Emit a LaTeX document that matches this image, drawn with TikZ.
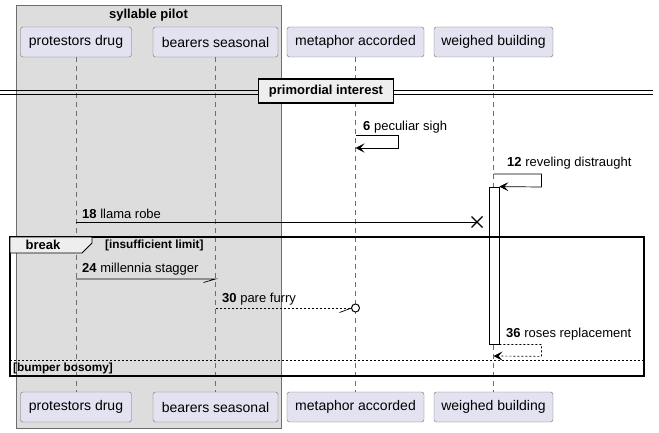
\documentclass[tikz,border=0pt]{standalone}
\usepackage{fontspec}
\setmainfont{Liberation Sans}
\usetikzlibrary{arrows.meta}
\definecolor{umlpart}{RGB}{226,226,240}
\definecolor{umlgroup}{RGB}{221,221,221}
\definecolor{umledge}{RGB}{110,110,110}
\definecolor{umltab}{RGB}{238,238,238}

\begin{document}
\begin{tikzpicture}[x=1pt, y=-1pt,
    part/.style={draw=umledge, fill=umlpart, rounded corners=2.5pt, minimum height=30pt,
      inner sep=0pt, font=\fontsize{14}{16}\selectfont},
    life/.style={draw=umledge, dash pattern=on 5pt off 4pt, line width=0.5pt},
    msg/.style={line width=0.7pt, -{Stealth[length=9pt, width=9pt, inset=4pt]}},
    reply/.style={msg, dash pattern=on 2pt off 2pt},
    lbl/.style={anchor=west, inner sep=0pt, font=\fontsize{13}{15}\selectfont},
    guard/.style={anchor=west, inner sep=0pt, font=\fontsize{11.8}{13}\selectfont\bfseries}]
  \useasboundingbox (0,0) rectangle (659,433);

  % Group box
  \draw[umledge, fill=umlgroup] (16,5) rectangle (281,428);
  \node[font=\fontsize{13}{15}\selectfont\bfseries] (grp) at (148.5,15) {syllable pilot};

  % Participants
  \node[part, minimum width=111pt] (pd) at (76,42) {protestors drug};
  \node[part, minimum width=125pt] (bs) at (215.5,42) {bearers seasonal};
  \node[part, minimum width=137pt] (ma) at (355.5,42) {metaphor accorded};
  \node[part, minimum width=119pt] (wb) at (493.5,42) {weighed building};
  \node[part, minimum width=111pt] (pdb) at (76,407) {protestors drug};
  \node[part, minimum width=125pt] (bsb) at (215.5,407) {bearers seasonal};
  \node[part, minimum width=137pt] (mab) at (355.5,407) {metaphor accorded};
  \node[part, minimum width=119pt] (wbb) at (493.5,407) {weighed building};

  % Lifelines
  \draw[life] (pd) -- (pdb);
  \draw[life] (bs) -- (bsb);
  \draw[life] (ma) -- (mab);
  \draw[life] (wb) -- (wbb);

  % Divider
  \draw[line width=0.8pt] (0,90.5) -- (653,90.5);
  \draw[line width=0.8pt] (0,94) -- (653,94);
  \node[draw, line width=1.5pt, fill=umltab, minimum width=135pt, minimum height=24pt,
    font=\fontsize{13}{15}\selectfont\bfseries] (div) at (326,91) {primordial interest};

  % Activation
  \node[draw, fill=white, line width=0.8pt, minimum width=10pt, minimum height=157pt,
    inner sep=0pt] (act) at (494,265.5) {};

  % 6 peculiar sigh
  \coordinate (m6) at (ma |- 0,135);
  \coordinate (m6e) at (ma |- 0,148);
  \draw[msg] (m6) -- ++(43,0) -- ++(0,13) -- (m6e);
  \node[lbl] (l6) at (363,127) {\textbf{6} peculiar sigh};

  % 12 reveling distraught
  \coordinate (m12) at (wb |- 0,174);
  \draw[msg] (m12) -- ++(48,0) -- ++(0,13) -- (act.north east);
  \node[lbl] (l12) at (507,163.5) {\textbf{12} reveling distraught};

  % 18 llama robe
  \coordinate (m18) at (pd |- 0,222);
  \coordinate (m18x) at (477,222);
  \draw[line width=0.7pt] (m18) -- (m18x);
  \draw[line width=1.2pt] ([shift={(-5.5,-5.5)}]m18x) -- ([shift={(5.5,5.5)}]m18x)
    ([shift={(-5.5,5.5)}]m18x) -- ([shift={(5.5,-5.5)}]m18x);
  \node[lbl] (l18) at (82,213.5) {\textbf{18} llama robe};

  % Fragment
  \draw[line width=1.5pt] (10,237) rectangle (644,376);
  \draw[fill=umltab, line width=0.8pt] (10,237) -- (92,237) -- (92,243) -- (82,253) -- (10,253) -- cycle;
  \node[font=\fontsize{13}{15}\selectfont\bfseries] (brk) at (43,245) {break};
  \node[guard] (g1) at (105,245) {[insufficient limit]};

  % 24 millennia stagger
  \coordinate (m24) at (pd |- 0,279);
  \coordinate (m24e) at (bs |- 0,279);
  \draw[line width=0.7pt] (m24) -- (m24e) -- ++(-12,3.5);
  \node[lbl] (l24) at (82,269) {\textbf{24} millennia stagger};

  % 30 pare furry
  \coordinate (m30) at (bs |- 0,308);
  \coordinate (m30e) at (ma |- 0,308);
  \draw[line width=0.7pt, dash pattern=on 2pt off 2pt] (m30) -- ([xshift=-4pt]m30e);
  \draw[line width=0.7pt] ([xshift=-4pt]m30e) -- ++(-12,4.5);
  \draw[line width=1pt, fill=white] (m30e) circle (4);
  \node[lbl] (l30) at (222,299.5) {\textbf{30} pare furry};

  % 36 roses replacement
  \coordinate (m36) at (wb |- 0,356);
  \draw[reply] (act.south east) -- ++(42,0) -- ++(0,12) -- (m36);
  \node[lbl] (l36) at (506,334) {\textbf{36} roses replacement};

  % Else
  \draw[line width=0.7pt, dash pattern=on 2pt off 2pt] (10,360) -- (644,360);
  \node[guard] (g2) at (13,368) {[bumper bosomy]};
\end{tikzpicture}
\end{document}
